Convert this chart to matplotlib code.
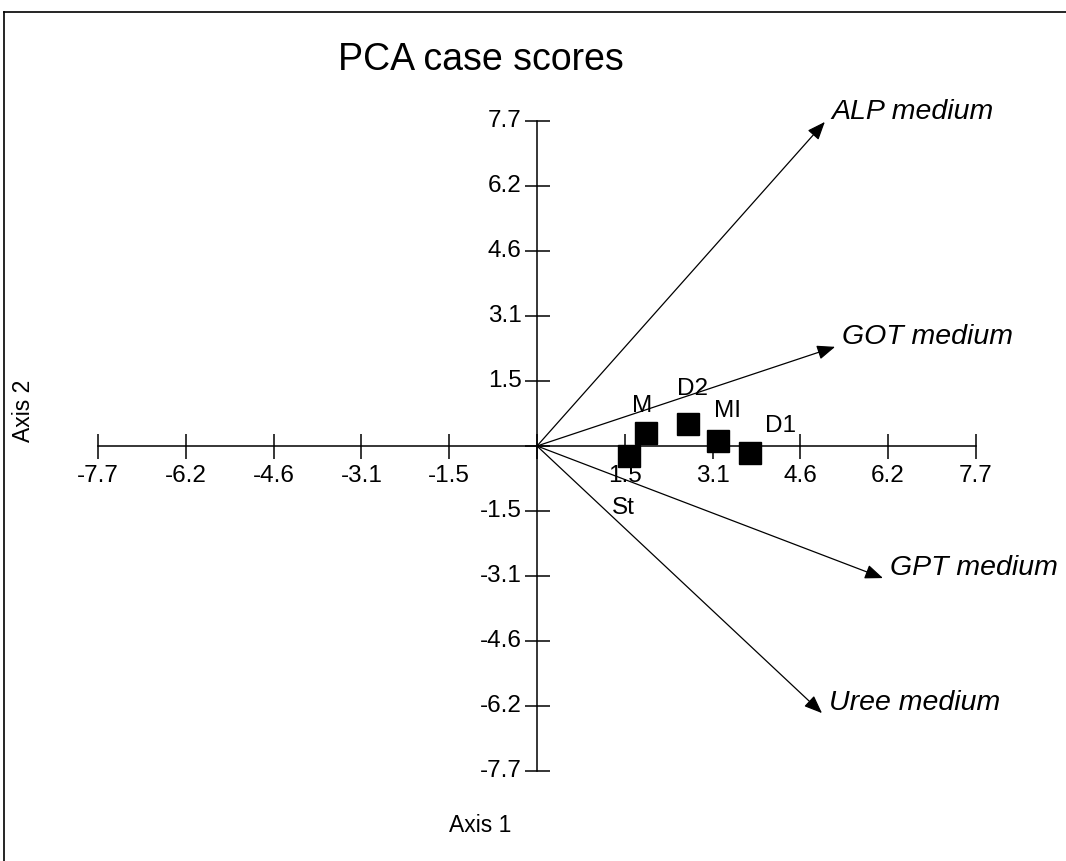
import numpy as np
import matplotlib
matplotlib.use("Agg")
import matplotlib.pyplot as plt
from matplotlib.lines import Line2D

plt.rcParams["font.family"] = ["Liberation Sans", "DejaVu Sans"]

# case scores (axis 1, axis 2)
cases = ["St", "M", "D2", "MI", "D1"]
case_x = [1.61, 1.91, 2.65, 3.18, 3.74]
case_y = [-0.24, 0.31, 0.52, 0.12, -0.17]

# variable vectors
variables = ["ALP medium", "GOT medium", "GPT medium", "Uree medium"]
var_x = [5.05, 5.23, 6.07, 5.00]
var_y = [7.68, 2.35, -3.13, -6.33]

axis_max = 7.7
tick_vals = np.linspace(-axis_max, axis_max, 11)
tick_labels = ["%.1f" % v for v in tick_vals]

W, H = 1066, 861
fig = plt.figure(figsize=(W / 100, H / 100), dpi=100)
ax = fig.add_axes([0, 0, 1, 1])
ax.axis("off")

# pixel layout of the plot frame
ox, oy = 537, 446          # origin in pixels (from top)
sx, sy = 57.0, 42.2        # pixels per unit
ax.set_xlim(-ox / sx, (W - ox) / sx)
ax.set_ylim(-(H - oy) / sy, oy / sy)

lw = 1.1
# axes through the origin
ax.plot([-axis_max, axis_max], [0, 0], color="k", lw=lw)
ax.plot([0, 0], [-axis_max, axis_max], color="k", lw=lw)

# ticks as markers
mask = np.abs(tick_vals) > 1e-9
ax.plot(tick_vals, np.zeros_like(tick_vals), ls="none", marker="|",
        ms=18, mew=lw, color="k")
ax.plot(np.zeros_like(tick_vals), tick_vals, ls="none", marker="_",
        ms=18, mew=lw, color="k")

fs_tick = 17.5
for v, lab in zip(tick_vals[mask], np.array(tick_labels)[mask]):
    ax.annotate(lab, (v, 0), xytext=(0, -14), textcoords="offset points",
                ha="center", va="top", fontsize=fs_tick)
    ax.annotate(lab, (0, v), xytext=(-11, 0), textcoords="offset points",
                ha="right", va="center", fontsize=fs_tick)

# variable arrows
for name, vx, vy in zip(variables, var_x, var_y):
    ax.annotate("", xy=(vx, vy), xytext=(0, 0),
                arrowprops=dict(arrowstyle="-|>,head_length=0.55,head_width=0.22",
                                color="k", lw=0.9, mutation_scale=20,
                                shrinkA=0, shrinkB=0))
    ax.annotate(name, (vx, vy), xytext=(5, 7), textcoords="offset points",
                ha="left", va="center", fontsize=20.5, style="italic")

# case points
ax.plot(case_x, case_y, ls="none", marker="s", ms=15.5, color="k")
label_off = [(-4, -37), (-3, 19.5), (3.5, 25), (6.5, 21.5), (21.5, 19.5)]
for name, cx, cy, off in zip(cases, case_x, case_y, label_off):
    ax.annotate(name, (cx, cy), xytext=off, textcoords="offset points",
                ha="center", va="center", fontsize=fs_tick)

# titles
fig.text(481 / W, 1 - 60 / H, "PCA case scores", ha="center", va="center",
         fontsize=27)
fig.text(480 / W, 1 - 825 / H, "Axis 1", ha="center", va="center",
         fontsize=16.5)
fig.text(23 / W, 1 - 411 / H, "Axis 2", ha="center", va="center",
         fontsize=16.5, rotation=90)

# window frame (top and left edges)
fig.add_artist(Line2D([4 / W, 1], [1 - 12 / H, 1 - 12 / H], color="k", lw=1.2))
fig.add_artist(Line2D([4 / W, 4 / W], [0, 1 - 12 / H], color="k", lw=1.2))

fig.savefig("out.png", dpi=100)
